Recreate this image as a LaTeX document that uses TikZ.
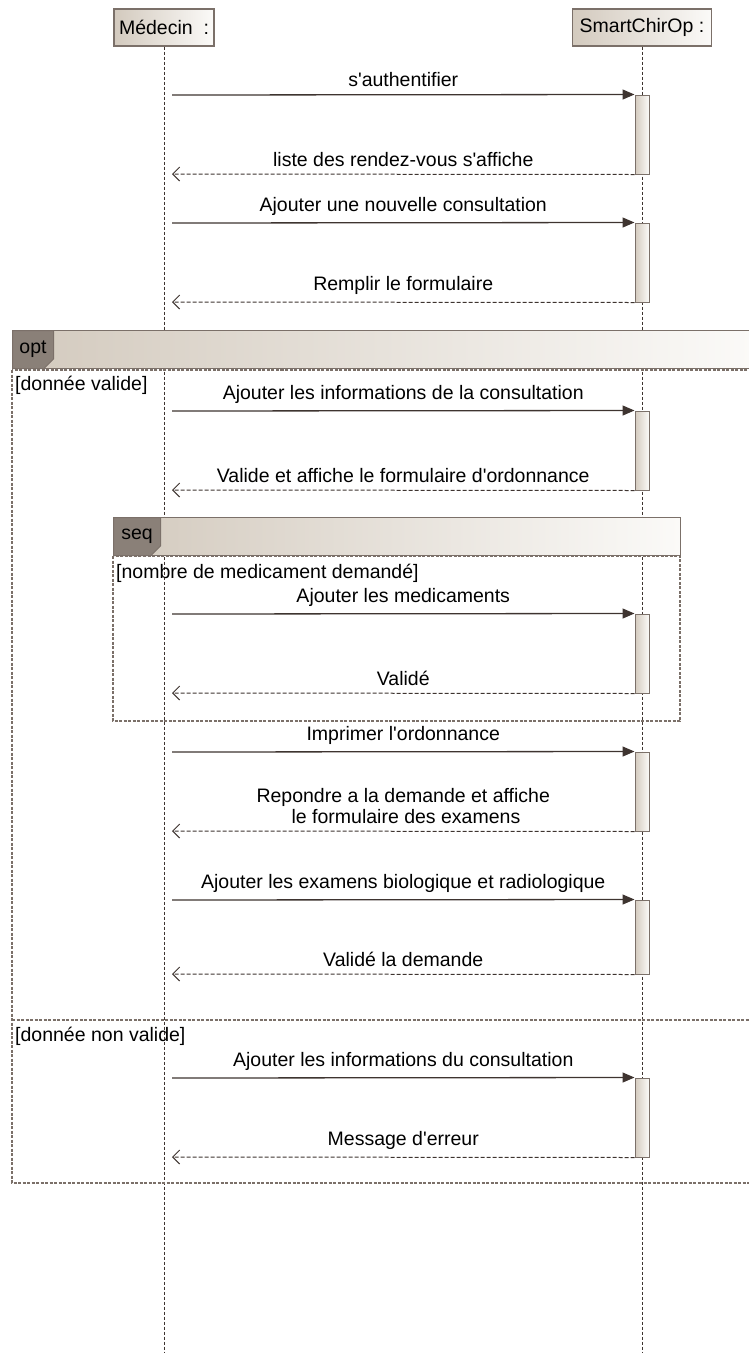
\documentclass[tikz,border=0pt]{standalone}
\usepackage{fontspec}
\setmainfont{Liberation Sans}
\usetikzlibrary{arrows.meta,positioning,shapes.misc}

\definecolor{umlline}{HTML}{3E3430}
\definecolor{umlframe}{HTML}{7B7069}
\definecolor{umlbeige}{HTML}{D3CABE}
\definecolor{umlpale}{HTML}{FBFAF8}
\definecolor{umltab}{HTML}{8A8078}
\newcommand{\apos}{\textquotesingle}

\begin{document}
\begin{tikzpicture}[
  x=1pt, y=-1pt,
  font=\fontsize{19.5}{21}\selectfont,
  head/.style={rectangle, draw=umlframe, line width=1.2pt, left color=umlbeige, right color=umlpale, minimum height=37pt, inner sep=3pt},
  lifeline/.style={draw=umlline, line width=0.9pt, dash pattern=on 3pt off 2pt},
  bar/.style={rectangle, draw=umlframe, line width=1pt, left color=umlbeige, right color=umlpale, minimum width=14pt, inner sep=0pt},
  msg/.style={draw=umlline, line width=1.3pt, -{Triangle[length=12pt,width=10pt]}},
  reply/.style={draw=umlline, line width=1pt, dash pattern=on 4pt off 2pt, -{Straight Barb[length=7pt,width=14pt]}},
  lbl/.style={midway, above, inner sep=7pt},
  band/.style={rectangle, draw=umlframe, line width=1.2pt, left color=umlbeige, right color=umlpale, inner sep=0pt, anchor=north west, minimum height=38pt},
  tab/.style={chamfered rectangle, chamfered rectangle corners=south east, chamfered rectangle xsep=6pt, draw=umlframe, fill=umltab, line width=1pt, anchor=north west, minimum height=38pt, inner sep=0pt},
  operand/.style={draw=umlframe, line width=2pt, dash pattern=on 3pt off 1.5pt},
  guard/.style={anchor=west, inner sep=2pt}
]
\useasboundingbox (0,0) rectangle (748,1353);

\node[head, minimum width=100pt] (med) at (164,27.5) {Médecin\ \ :};
\node[head, minimum width=139pt] (sys) at (642,27.5) {SmartChirOp :};
\coordinate (medEnd) at (164,1353);
\coordinate (sysEnd) at (642,1353);
\draw[lifeline] (med) -- (medEnd);
\draw[lifeline] (sys) -- (sysEnd);

\node[band, minimum width=740pt] (optband) at (12,330) {};
\node[tab, minimum width=41pt] (opttab) at (12,330) {opt};
\draw[operand] (12,370) rectangle (750,1183);
\draw[operand] (12,1020) -- (750,1020);
\node[guard] (g1) at (13,385) {[donnée valide]};
\node[guard] (g2) at (13,1036) {[donnée non valide]};

\node[band, minimum width=567pt] (seqband) at (113,517) {};
\node[tab, minimum width=47pt] (seqtab) at (113,517) {seq};
\draw[operand] (113,556) rectangle (680,721);
\node[guard] (g3) at (114,573) {[nombre de medicament demandé]};

\node[bar, minimum height=79pt] (b1) at (642,134.5) {};
\node[bar, minimum height=79pt] (b2) at (642,262.5) {};
\node[bar, minimum height=79pt] (b3) at (642,450.5) {};
\node[bar, minimum height=79pt] (b4) at (642,653.5) {};
\node[bar, minimum height=79pt] (b5) at (642,791.5) {};
\node[bar, minimum height=74pt] (b6) at (642,937) {};
\node[bar, minimum height=79pt] (b7) at (642,1117.5) {};

\coordinate (s1) at (172,95);
\coordinate (r1) at (172,174);
\coordinate (s2) at (172,223);
\coordinate (r2) at (172,302);
\coordinate (s3) at (172,411);
\coordinate (r3) at (172,490);
\coordinate (s4) at (172,614);
\coordinate (r4) at (172,693);
\coordinate (s5) at (172,752);
\coordinate (r5) at (172,831);
\coordinate (s6) at (172,900);
\coordinate (r6) at (172,974);
\coordinate (s7) at (172,1078);
\coordinate (r7) at (172,1157);

\draw[msg] (s1) -- (b1.north west) node[lbl] {s\apos authentifier};
\draw[reply] (b1.south west) -- (r1) node[lbl] {liste des rendez-vous s\apos affiche};
\draw[msg] (s2) -- (b2.north west) node[lbl] {Ajouter une nouvelle consultation};
\draw[reply] (b2.south west) -- (r2) node[lbl] {Remplir le formulaire};
\draw[msg] (s3) -- (b3.north west) node[lbl] {Ajouter les informations de la consultation};
\draw[reply] (b3.south west) -- (r3) node[lbl] {Valide et affiche le formulaire d\apos ordonnance};
\draw[msg] (s4) -- (b4.north west) node[lbl] {Ajouter les medicaments};
\draw[reply] (b4.south west) -- (r4) node[lbl] {Validé};
\draw[msg] (s5) -- (b5.north west) node[lbl] {Imprimer l\apos ordonnance};
\draw[reply] (b5.south west) -- (r5) node[lbl, align=center] {Repondre a la demande et affiche\\\ le formulaire des examens};
\draw[msg] (s6) -- (b6.north west) node[lbl] {Ajouter les examens biologique et radiologique};
\draw[reply] (b6.south west) -- (r6) node[lbl] {Validé la demande};
\draw[msg] (s7) -- (b7.north west) node[lbl] {Ajouter les informations du consultation};
\draw[reply] (b7.south west) -- (r7) node[lbl] {Message d\apos erreur};

\end{tikzpicture}
\end{document}
